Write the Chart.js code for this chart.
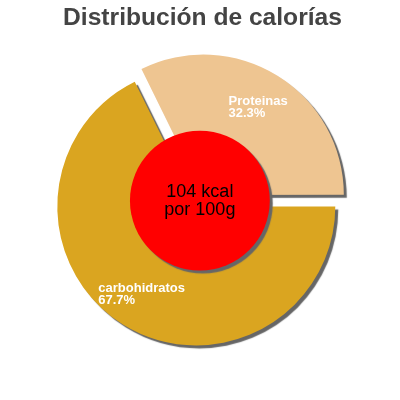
<!DOCTYPE html>
<html>
<head>
<meta charset="utf-8">
<script src="https://cdn.jsdelivr.net/npm/chart.js@4/dist/chart.umd.min.js"></script>
<style>
  html, body { margin: 0; padding: 0; background: #fff; }
  #wrap { width: 400px; height: 400px; }
</style>
</head>
<body>
<div id="wrap"><canvas id="calorias"></canvas></div>
<script>
var categorias = ['Proteinas', 'carbohidratos'];
var porcentajes = [32.3, 67.7];
var colores = ['#EEC591', '#DAA520'];
var centroTexto = ['104 kcal', 'por 100g'];
var titulo = 'Distribución de calorías';

// hard grey drop shadow under the slices and the red centre
var sombra = {
	id: 'sombra',
	beforeDatasetsDraw: function(chart) {
		var ctx = chart.ctx;
		ctx.save();
		ctx.shadowColor = '#666';
		ctx.shadowOffsetX = 3;
		ctx.shadowOffsetY = 3;
		ctx.shadowBlur = 1;
	},
	afterDatasetsDraw: function(chart) {
		chart.ctx.restore();
	}
};

// title centred on the canvas, not on the (off-centre) pie
var cabecera = {
	id: 'cabecera',
	afterDraw: function(chart) {
		var ctx = chart.ctx;
		ctx.save();
		ctx.fillStyle = '#444';
		ctx.font = 'bold 24.6px "Liberation Sans", Arial, sans-serif';
		ctx.textAlign = 'center';
		ctx.textBaseline = 'alphabetic';
		ctx.fillText(titulo, chart.width / 2 + 2.5, 25);
		ctx.restore();
	}
};

// where chart.js actually puts a slice (it moves it by offset/4 along its middle)
function centroArco(arc) {
	var mid = (arc.startAngle + arc.endAngle) / 2;
	var d = (arc.options.offset || 0) / 4;
	return { x: arc.x + Math.cos(mid) * d, y: arc.y + Math.sin(mid) * d, mid: mid };
}

// red disc in the middle + slice labels
var centro = {
	id: 'centro',
	afterDatasetsDraw: function(chart) {
		var ctx = chart.ctx;
		var arcs = chart.getDatasetMeta(0).data;
		var cx = 0, cy = 0;
		arcs.forEach(function(a) {
			var c = centroArco(a);
			cx += c.x / arcs.length;
			cy += c.y / arcs.length;
		});
		var r = arcs[0].outerRadius * 0.503;

		ctx.save();
		ctx.shadowColor = '#666';
		ctx.shadowOffsetX = 3;
		ctx.shadowOffsetY = 3;
		ctx.shadowBlur = 1;
		ctx.beginPath();
		ctx.arc(cx, cy, r, 0, Math.PI * 2);
		ctx.fillStyle = '#FF0000';
		ctx.fill();
		ctx.restore();

		ctx.save();
		ctx.fillStyle = '#000';
		ctx.font = '18px "Liberation Sans", Arial, sans-serif';
		ctx.textAlign = 'center';
		ctx.textBaseline = 'middle';
		ctx.fillText(centroTexto[0], cx, cy - 9);
		ctx.fillText(centroTexto[1], cx, cy + 9);
		ctx.restore();

		ctx.save();
		ctx.fillStyle = '#fff';
		ctx.font = 'bold 13px "Liberation Sans", Arial, sans-serif';
		ctx.textAlign = 'left';
		ctx.textBaseline = 'middle';
		for (var i = 0; i < arcs.length; i++) {
			var c = centroArco(arcs[i]);
			var dist = arcs[i].outerRadius * 0.745;
			var lx = c.x + Math.cos(c.mid) * dist;
			var ly = c.y + Math.sin(c.mid) * dist;
			var l1 = categorias[i];
			var l2 = porcentajes[i].toFixed(1) + '%';
			var w = Math.max(ctx.measureText(l1).width, ctx.measureText(l2).width);
			ctx.fillText(l1, lx - w / 2, ly - 6);
			ctx.fillText(l2, lx - w / 2, ly + 6);
		}
		ctx.restore();
	}
};

new Chart(document.getElementById('calorias'), {
	type: 'pie',
	data: {
		labels: categorias,
		datasets: [{
			data: porcentajes,
			backgroundColor: colores,
			borderWidth: 0,
			offset: [54, 0]
		}]
	},
	options: {
		responsive: true,
		maintainAspectRatio: false,
		animation: false,
		rotation: -26.28,
		layout: { padding: { left: 30.3, right: 37.7, top: 40.4, bottom: 27.6 } },
		plugins: {
			legend: { display: false },
			tooltip: { enabled: false },
			title: { display: false }
		}
	},
	plugins: [sombra, centro, cabecera]
});
</script>
</body>
</html>
